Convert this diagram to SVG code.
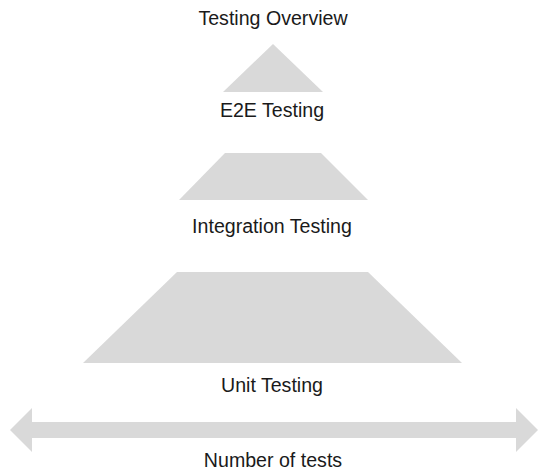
<svg xmlns="http://www.w3.org/2000/svg" width="548" height="475" viewBox="0 0 548 475">
<style>
.shape{fill:#d9d9d9;stroke:none}
.lbl{font-family:"Liberation Sans",Arial,sans-serif;font-size:19.6px;fill:#1a1a1a;text-anchor:middle}
</style>
<rect width="548" height="475" fill="#fff"/>
<g id="title"><text class="lbl" x="273" y="25">Testing Overview</text></g>
<g id="e2e">
<polygon class="shape" points="273,44 323,92 223,92"/>
<text class="lbl" x="272" y="117">E2E Testing</text>
</g>
<g id="integration">
<polygon class="shape" points="225,153 321,153 368,200 179,200"/>
<text class="lbl" x="272" y="233">Integration Testing</text>
</g>
<g id="unit">
<polygon class="shape" points="177,272 368,272 462,363 83,363"/>
<text class="lbl" x="272" y="392">Unit Testing</text>
</g>
<g id="connectors">
<polygon class="shape" points="10,430 32,408 32,422 516,422 516,408 538,430 516,452 516,438 32,438 32,452"/>
</g>
<g id="axis-label"><text class="lbl" x="273" y="467">Number of tests</text></g>
</svg>
